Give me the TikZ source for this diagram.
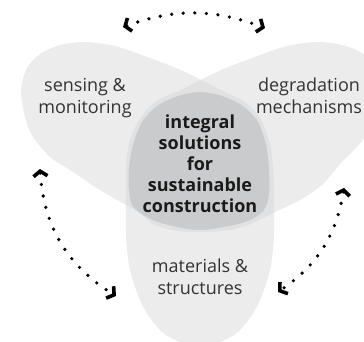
\documentclass[tikz,border=0pt]{standalone}
\usepackage{fontspec}
\setmainfont{Open Sans}
\usetikzlibrary{arrows.meta}
\definecolor{ellLight}{HTML}{ECECEC}
\definecolor{ellMid}{HTML}{E1E1E2}
\definecolor{ellDark}{HTML}{CACBCC}
\definecolor{txtGray}{HTML}{333333}
\definecolor{txtDark}{HTML}{1A1A1A}
\tikzset{
  lbl/.style={inner sep=0pt, align=center, text=txtGray, font=\fontsize{18}{22}\selectfont},
  core/.style={inner sep=0pt, align=center, text=txtDark, font=\bfseries\fontsize{18}{21}\selectfont},
  barb/.tip={Straight Barb[length=5pt,width=14pt,line width=3.6pt]},
  loop/.style={line width=3.6pt, line cap=round, dash pattern=on 0pt off 11.6pt, barb-barb}
}
\begin{document}
\begin{tikzpicture}[x=1pt,y=-1pt]
\useasboundingbox (0,0) rectangle (364,342);
% the three lobes
\path[save path=\LeftLobe] plot[smooth cycle] coordinates {
  (21,90) (27,68) (40,54) (60,45) (85,42) (115,46) (150,58) (183,71) (215,87)
  (243,103) (261,125) (269,150) (270,180) (266,205) (252,222) (230,230) (200,231)
  (165,223) (130,207) (100,190) (67,168) (50,157) (33,137) (25,117)};
\path[save path=\RightLobe] plot[smooth cycle] coordinates {
  (317,42) (342,45) (362,53) (375,66) (381,90) (378,112) (370,130) (363,140)
  (352,152) (340,164) (323,184) (300,200) (273,213) (245,226) (205,232) (172,230)
  (150,222) (136,205) (132,180) (133,150) (141,125) (159,103) (187,87) (219,71)
  (252,58) (287,46)};
\path[save path=\BottomLobe] plot[smooth cycle] coordinates {
  (200,88) (224,92) (246,103) (261,120) (270,144) (273,170) (274,200) (274,235)
  (271,265) (264,290) (254,312) (238,332) (220,342) (200,345) (180,342) (162,332)
  (146,312) (136,290) (129,265) (126,235) (126,200) (126,170) (129,144) (139,120)
  (154,103) (176,92)};
\fill[ellLight, use path=\LeftLobe];
\fill[ellLight, use path=\RightLobe];
\fill[ellLight, use path=\BottomLobe];
% pairwise overlaps
\begin{scope}
  \path[clip, use path=\LeftLobe];
  \fill[ellMid, use path=\RightLobe];
  \fill[ellMid, use path=\BottomLobe];
\end{scope}
\begin{scope}
  \path[clip, use path=\RightLobe];
  \fill[ellMid, use path=\BottomLobe];
\end{scope}
% core
\fill[ellDark] plot[smooth cycle] coordinates {
  (200,92) (222,96) (243,106) (258,122) (266,145) (269,170) (269,193) (264,210)
  (245,222) (200,230) (158,222) (134,208) (129,190) (129,168) (133,145) (142,122)
  (157,106) (178,96)};
% labels (anchor=base is the baseline of the last line)
\node[lbl, anchor=base] (sens) at (85,114) {sensing \&\\monitoring};
\node[lbl, anchor=base] (degr) at (309,114) {degradation\\mechanisms};
\node[lbl, anchor=base] (mat) at (200,294) {materials \&\\structures};
\node[core, anchor=base] (int) at (200,212) {integral\\solutions\\for\\sustainable\\construction};
% loops
\coordinate (t1) at (123,27);
\coordinate (t2) at (265,28);
\coordinate (l1) at (40,169);
\coordinate (l2) at (116,296);
\coordinate (r1) at (344,188);
\coordinate (r2) at (278,292);
\draw[loop] (t1) to[bend left=20] (t2);
\draw[loop] (l1) to[bend right=27] (l2);
\draw[loop] (r1) to[bend left=23] (r2);
\end{tikzpicture}
\end{document}
